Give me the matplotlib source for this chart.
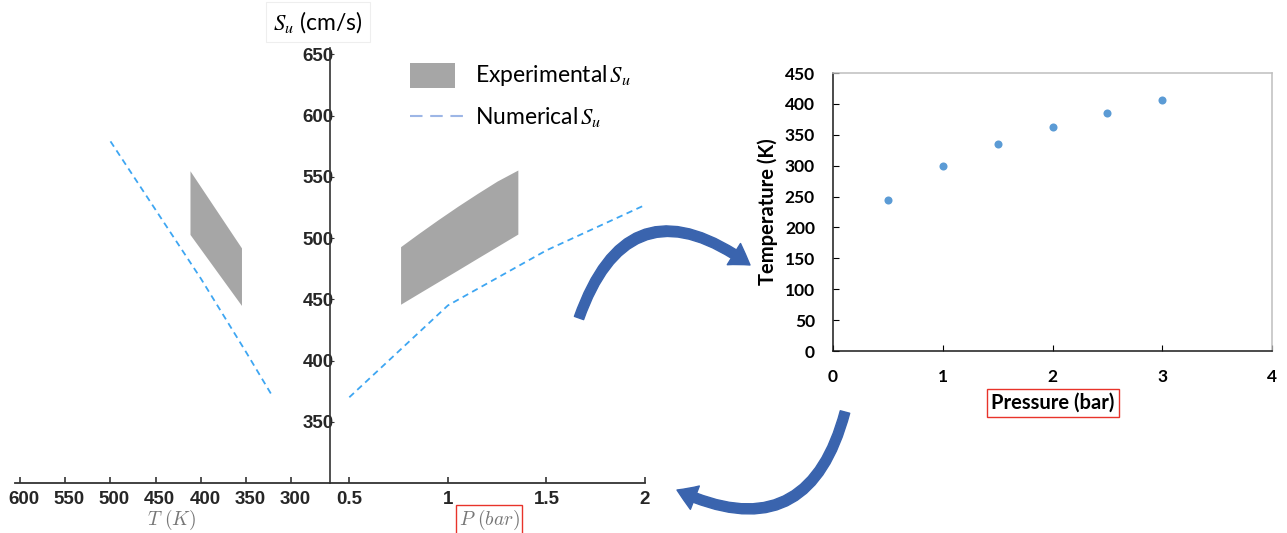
import numpy as np
import matplotlib
matplotlib.use('Agg')
import matplotlib.pyplot as plt
from matplotlib.patches import Rectangle, FancyArrowPatch
from matplotlib.lines import Line2D
from matplotlib.transforms import ScaledTranslation

plt.rcParams['font.family'] = ['Liberation Sans', 'DejaVu Sans']
plt.rcParams['mathtext.fontset'] = 'cm'

# ---- data ----
# left half: S_u vs temperature
T_num = [500, 450, 400, 350, 320]
Su_T_num = [579, 523, 467, 407, 370]
T_exp = [412, 355]
Su_T_exp_hi = [555, 492]
Su_T_exp_lo = [503, 445]

# right half: S_u vs pressure
P_num = [0.5, 1.0, 1.5, 2.0]
Su_P_num = [370, 445, 490, 527]
P_exp = [0.76, 0.85, 0.95, 1.05, 1.15, 1.25, 1.355]
Su_P_exp_hi = [493, 503.6, 515, 526, 536.5, 546.6, 555.6]
Su_P_exp_lo = [446, 454.7, 464.3, 473.9, 483.6, 493.2, 503.3]

T_ticks = [600, 550, 500, 450, 400, 350, 300]
P_ticks = [0.5, 1, 1.5, 2]
Su_ticks = [350, 400, 450, 500, 550, 600, 650]

# small chart: temperature vs pressure
pressure = [0.5, 1.0, 1.5, 2.0, 2.5, 3.0]
temperature = [245, 299, 335, 362, 386, 406]

W, H = 1287, 533
fig = plt.figure(figsize=(W / 100, H / 100), dpi=100)


def fx(px):
    return px / W


def fy(py):
    return 1 - py / H


num_color = '#3ea6f2'
exp_color = '#a6a6a6'
tick_font = dict(family='Liberation Sans', weight='bold', size=13.5)

# ---- left composite chart: two axes back to back ----
y0, y1 = 483, 48.3
axT = fig.add_axes([fx(15), fy(y0), fx(315), (y0 - y1) / H])
axP = fig.add_axes([fx(330), fy(y0), fx(315), (y0 - y1) / H], sharey=axT)

axT.set_xlim(605.7, 257)
axP.set_xlim(0.402, 2.0)
axT.set_ylim(300, 655)

axT.fill_between(T_exp, Su_T_exp_lo, Su_T_exp_hi, color=exp_color, lw=0)
axT.plot(T_num, Su_T_num, color=num_color, lw=1.3, dashes=(3.5, 2.5))
axP.fill_between(P_exp, Su_P_exp_lo, Su_P_exp_hi, color=exp_color, lw=0)
axP.plot(P_num, Su_P_num, color=num_color, lw=1.3, dashes=(3.5, 2.5))

for ax in (axT, axP):
    ax.patch.set_alpha(0)
    for s in ('top', 'right'):
        ax.spines[s].set_visible(False)
    ax.spines['bottom'].set_color('#333333')
    ax.spines['bottom'].set_linewidth(1.3)
    ax.tick_params(axis='x', direction='in', length=4, width=1.2,
                   color='#333333', pad=6)
axT.spines['left'].set_visible(False)
axP.spines['left'].set_color('#333333')
axP.spines['left'].set_linewidth(1.2)

axT.set_xticks(T_ticks)
axT.set_xticklabels([str(t) for t in T_ticks], fontdict=tick_font, color='#262626')
axP.set_xticks(P_ticks)
axP.set_xticklabels(['0.5', '1', '1.5', '2'], fontdict=tick_font, color='#262626')
for lbl in axT.get_xticklabels():
    lbl.set_transform(lbl.get_transform() + ScaledTranslation(4 / 100, 0, fig.dpi_scale_trans))

axT.tick_params(axis='y', left=False, labelleft=False)
axP.set_yticks(Su_ticks)
axP.set_yticklabels([str(v) for v in Su_ticks], fontdict=tick_font, color='#262626')
axP.tick_params(axis='y', direction='in', length=3, color='#333333', pad=-2.5,
                labelleft=True)

axT.set_xlabel(r'$T\ (K)$', fontsize=14, color='#777777', va='center')
axT.xaxis.set_label_coords(0.497, -0.085)
axP.set_xlabel(r'$P\ (bar)$', fontsize=14, color='#777777', va='center',
               bbox=dict(boxstyle='square,pad=0.15', fc='none', ec='#e8332a', lw=1))
axP.xaxis.set_label_coords(0.505, -0.085)

fig.text(fx(318), fy(22), r'$S_u$ (cm/s)', family='Lato', fontsize=16.5,
         math_fontfamily='stix', ha='center', va='center',
         bbox=dict(boxstyle='square,pad=0.3', fc='white', ec='#eeeeee', lw=0.8))

# legend drawn by hand
fig.add_artist(Rectangle((fx(410), fy(88)), fx(45), 25 / H, transform=fig.transFigure,
                         fc=exp_color, ec='none'))
fig.add_artist(Line2D([fx(410), fx(465)], [fy(116), fy(116)], transform=fig.transFigure,
                      color='#9db6e6', lw=1.5, dashes=(6, 3.7)))
fig.text(fx(475), fy(76), r'Experimental$\,S_u$', family='Lato', fontsize=16.5,
         math_fontfamily='stix', va='center')
fig.text(fx(475), fy(117), r'Numerical$\,S_u$', family='Lato', fontsize=16.5,
         math_fontfamily='stix', va='center')

# ---- small Excel-like chart ----
ax2 = fig.add_axes([fx(833), fy(351), fx(439), 278 / H])
ax2.plot(pressure, temperature, 'o', color='#5b9bd5', markersize=5.8, mec='none')
ax2.set_xlim(0, 4)
ax2.set_ylim(0, 450)
ax2.set_xticks([0, 1, 2, 3, 4])
ax2.set_yticks(range(0, 451, 50))
lato_b = dict(family='Lato', weight='bold', size=12.5)
ax2.set_xticklabels(['0', '1', '2', '3', '4'], fontdict=lato_b)
ax2.set_yticklabels([str(v) for v in range(0, 451, 50)], fontdict=lato_b)
ax2.tick_params(axis='x', direction='in', length=4, pad=13)
ax2.tick_params(axis='y', direction='in', length=4, pad=13)
for s in ('left', 'bottom'):
    ax2.spines[s].set_color('#1a1a1a')
    ax2.spines[s].set_linewidth(1.1)
for s in ('top', 'right'):
    ax2.spines[s].set_color('#bfbfbf')
    ax2.spines[s].set_linewidth(1.1)
ax2.set_ylabel('Temperature (K)', family='Lato', weight='bold', fontsize=14.5, va='center')
ax2.yaxis.set_label_coords((768 - 833) / 439, 0.5)
ax2.set_xlabel('Pressure (bar)', family='Lato', weight='bold', fontsize=14.5, va='center',
               bbox=dict(boxstyle='square,pad=0.2', fc='none', ec='#e8332a', lw=1))
ax2.xaxis.set_label_coords(0.501, -0.187)

# ---- curved arrows linking the charts ----
arrow_style = 'simple,head_width=18,head_length=14,tail_width=7'
a1 = FancyArrowPatch((fx(579), fy(318)), (fx(750), fy(265)), transform=fig.transFigure,
                     connectionstyle='arc3,rad=-0.67', arrowstyle=arrow_style,
                     color='#3a64ae', shrinkA=0, shrinkB=0)
a2 = FancyArrowPatch((fx(845), fy(412)), (fx(677), fy(490)), transform=fig.transFigure,
                     connectionstyle='arc3,rad=-0.6', arrowstyle=arrow_style,
                     color='#3a64ae', shrinkA=0, shrinkB=0)
fig.add_artist(a1)
fig.add_artist(a2)

plt.savefig('out.png', dpi=100)
